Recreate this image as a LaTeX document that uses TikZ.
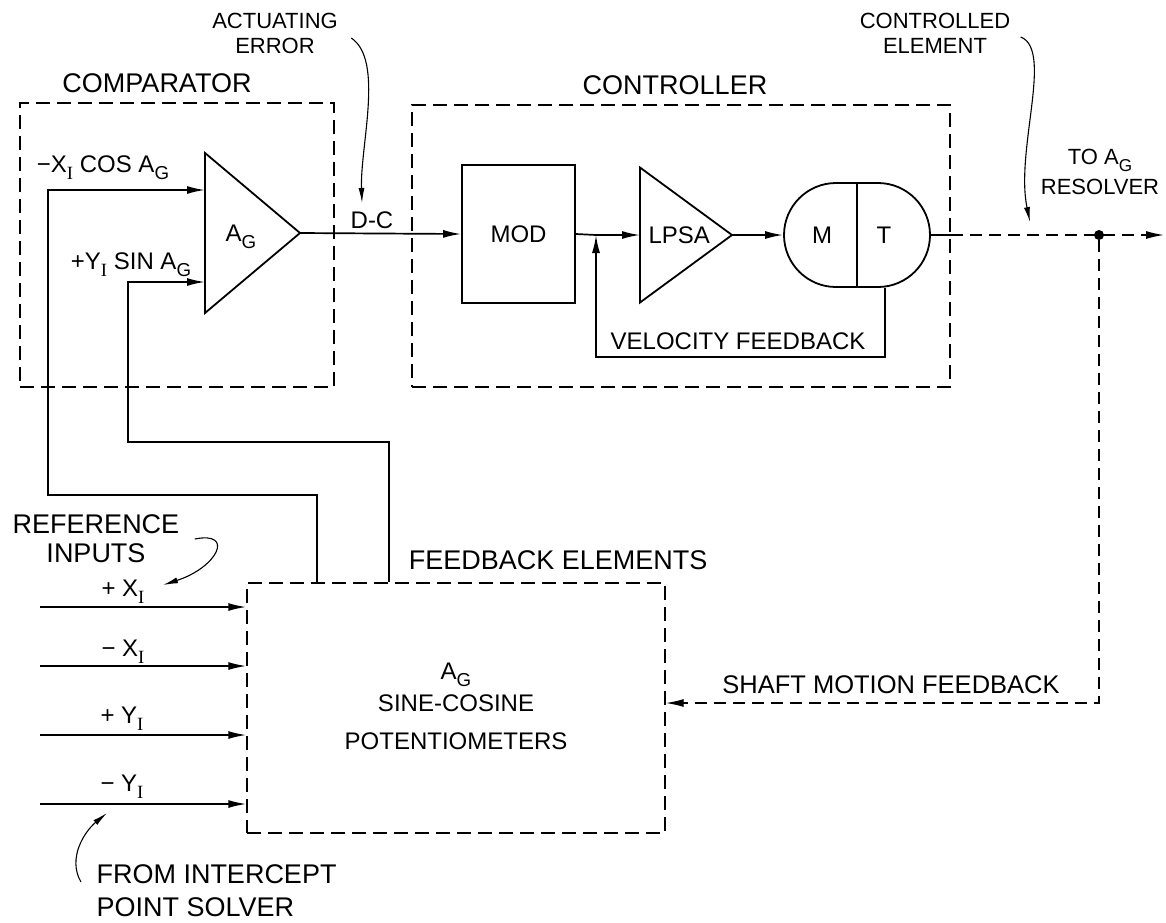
\documentclass[tikz,border=0pt]{standalone}
\usepackage{fontspec}
\usepackage{graphicx}
\setmainfont{Liberation Sans}
\newfontfamily\serifI{Liberation Serif}
\usetikzlibrary{shapes.geometric, shapes.misc, arrows.meta, positioning, calc}
\newcommand{\sub}[1]{\raisebox{-0.3em}{\scalebox{0.78}{#1}}}
\newcommand{\subI}{\sub{\serifI I}}

\begin{document}
\begin{tikzpicture}[
    x=1pt, y=-1pt,
    ttl/.style={font=\fontsize{27}{29}\selectfont},
    txt/.style={font=\fontsize{24}{27}\selectfont, align=center},
    note/.style={font=\fontsize{22}{25}\selectfont, align=center},
    region/.style={draw, dash pattern=on 14pt off 7pt, line width=1.4pt, inner sep=0pt},
    block/.style={draw, line width=1.8pt, inner sep=0pt},
    amp/.style={draw, line width=1.8pt, isosceles triangle, isosceles triangle stretches, inner sep=0pt, outer sep=0pt},
    wire/.style={line width=1.7pt},
    sig/.style={wire, -{Latex[length=18pt, width=8pt]}},
    dashsig/.style={line width=1.4pt, dash pattern=on 12pt off 7pt},
    pointer/.style={line width=1.1pt, -{Latex[length=15pt, width=6pt]}}
]
    \useasboundingbox (0,0) rectangle (1166,922);

    % Dashed regions
    \node (comp) [region, minimum width=314pt, minimum height=284pt] at (177,245) {};
    \node (ctrl) [region, minimum width=538pt, minimum height=282pt] at (681,246) {};
    \node (fb) [region, minimum width=418pt, minimum height=250pt] at (456,708) {};
    \node (comp title) [ttl, above=6pt of comp.north, xshift=-20pt] {COMPARATOR};
    \node (ctrl title) [ttl, above=6pt of ctrl.north, xshift=-6pt] {CONTROLLER};
    \node (fb title) [ttl, above right=9pt and 159pt of fb.north west] {FEEDBACK ELEMENTS};

    % Comparator
    \node (ag) [amp, minimum height=95pt, minimum width=160pt, anchor=west] at (205,233) {};
    \node (ag lbl) [txt] at (241,237) {A\sub{G}};
    \node (cos lbl) [txt] at (103,168) {−X\subI{} COS A\sub{G}};
    \node (sin lbl) [txt] at (131,265) {+Y\subI{} SIN A\sub{G}};

    % Controller
    \node (mod) [block, txt, minimum width=113pt, minimum height=138pt] at (518.5,234) {MOD};
    \node (lpsa) [amp, minimum height=92pt, minimum width=135pt, anchor=west] at (640,235) {};
    \node (lpsa lbl) [txt, right=5pt of lpsa.west] {LPSA};
    \node (motor) [block, rounded rectangle, minimum width=146pt, minimum height=104pt] at (857,235) {};
    \draw [wire] (motor.north) -- (motor.south);
    \node (m lbl) [txt] at (822,235) {M};
    \node (t lbl) [txt] at (884,235) {T};
    \node (vf lbl) [txt] at (738,341) {VELOCITY FEEDBACK};
    \node (dc) [txt] at (372,220) {D-C};

    % Feedback elements
    \node (pot lbl) [txt] at (456,706) {A\sub{G}\\[5pt]SINE-COSINE\\[11pt]POTENTIOMETERS};
    \node (shaft lbl) [txt, font=\fontsize{25.5}{28}\selectfont] at (891,685) {SHAFT MOTION FEEDBACK};

    % Notes
    \node (acterr) [note] at (275,33) {ACTUATING\\ERROR};
    \node (ctrlel) [note] at (935,33) {CONTROLLED\\ELEMENT};
    \node (resolv lbl) [note] at (1100,172) {TO A\sub{G}\\[5pt]RESOLVER};
    \node (refin) [ttl, align=center] at (96,539) {REFERENCE\\INPUTS};
    \node (ips) [ttl, align=left, anchor=west] at (93,891) {FROM INTERCEPT\\[4pt]POINT SOLVER};

    % Input labels
    \node (xp lbl) [txt] at (123,592) {+ X\subI};
    \node (xm lbl) [txt] at (123,652) {− X\subI};
    \node (yp lbl) [txt] at (122,719) {+ Y\subI};
    \node (ym lbl) [txt] at (122,787) {− Y\subI};

    % Coordinates
    \coordinate (ag in1) at ([yshift=43pt]ag.west);
    \coordinate (ag in2) at ([yshift=-49pt]ag.west);
    \coordinate (cos tap) at ([xshift=71pt]fb.north west);
    \coordinate (sin tap) at ([xshift=143pt]fb.north west);
    \coordinate (cos bend) at (48,495);
    \coordinate (sin bend) at (128,442);
    \coordinate (vf join) at (596,235);
    \coordinate (tach tap) at ([xshift=28pt]motor.south);
    \coordinate (vf low) at (885,357);
    \coordinate (ctrl out) at (ctrl.east |- motor.east);
    \coordinate (resolver) at (1164,235);
    \coordinate (shaft in) at ([yshift=5pt]fb.east);
    \coordinate (xp src) at (40,607);
    \coordinate (xm src) at (40,666);
    \coordinate (yp src) at (40,735);
    \coordinate (ym src) at (40,804);
    \coordinate (dc tip) at ([xshift=-10pt, yshift=5pt]dc.north);
    \coordinate (ce tip) at (1030,222);
    \coordinate (xp tip) at (163,585);
    \coordinate (ym tip) at (107,813);
    \node (take) [circle, fill, inner sep=0pt, minimum size=10pt] at (1099,235) {};

    % Connections
    \draw [sig] (cos tap) |- (cos bend) |- (ag in1);
    \draw [sig] (sin tap) |- (sin bend) |- (ag in2);
    \draw [sig] (ag.east) -- (mod.west);
    \draw [wire] (mod.east) -- (vf join);
    \draw [sig] (vf join) -- (lpsa.west);
    \draw [sig] (lpsa.east) -- (motor.west);
    \draw [sig] (tach tap) -- (vf low) -| (vf join);
    \draw [wire] (motor.east) -- (ctrl out);
    \draw [dashsig, -{Latex[length=18pt, width=8pt]}] (ctrl out) -- (resolver);
    \draw [dashsig, -{Latex[length=18pt, width=8pt]}] (take) |- (shaft in);

    \draw [sig] (xp src) -- (xp src -| fb.west);
    \draw [sig] (xm src) -- (xm src -| fb.west);
    \draw [sig] (yp src) -- (yp src -| fb.west);
    \draw [sig] (ym src) -- (ym src -| fb.west);

    % Pointers
    \draw [pointer] ([xshift=10pt, yshift=-5pt]acterr.east) .. controls +(33,22) and +(-2,-57) .. (dc tip);
    \draw [pointer] ([xshift=7pt, yshift=-4pt]ctrlel.east) .. controls +(33,13) and +(-15,-72) .. (ce tip);
    \draw [pointer] ([xshift=12pt]refin.east) .. controls +(40,-8) and +(55,-18) .. (xp tip);
    \draw [pointer] ([xshift=-12pt, yshift=9pt]ips.west) .. controls +(-14,-24) and +(-22,18) .. (ym tip);
\end{tikzpicture}
\end{document}
